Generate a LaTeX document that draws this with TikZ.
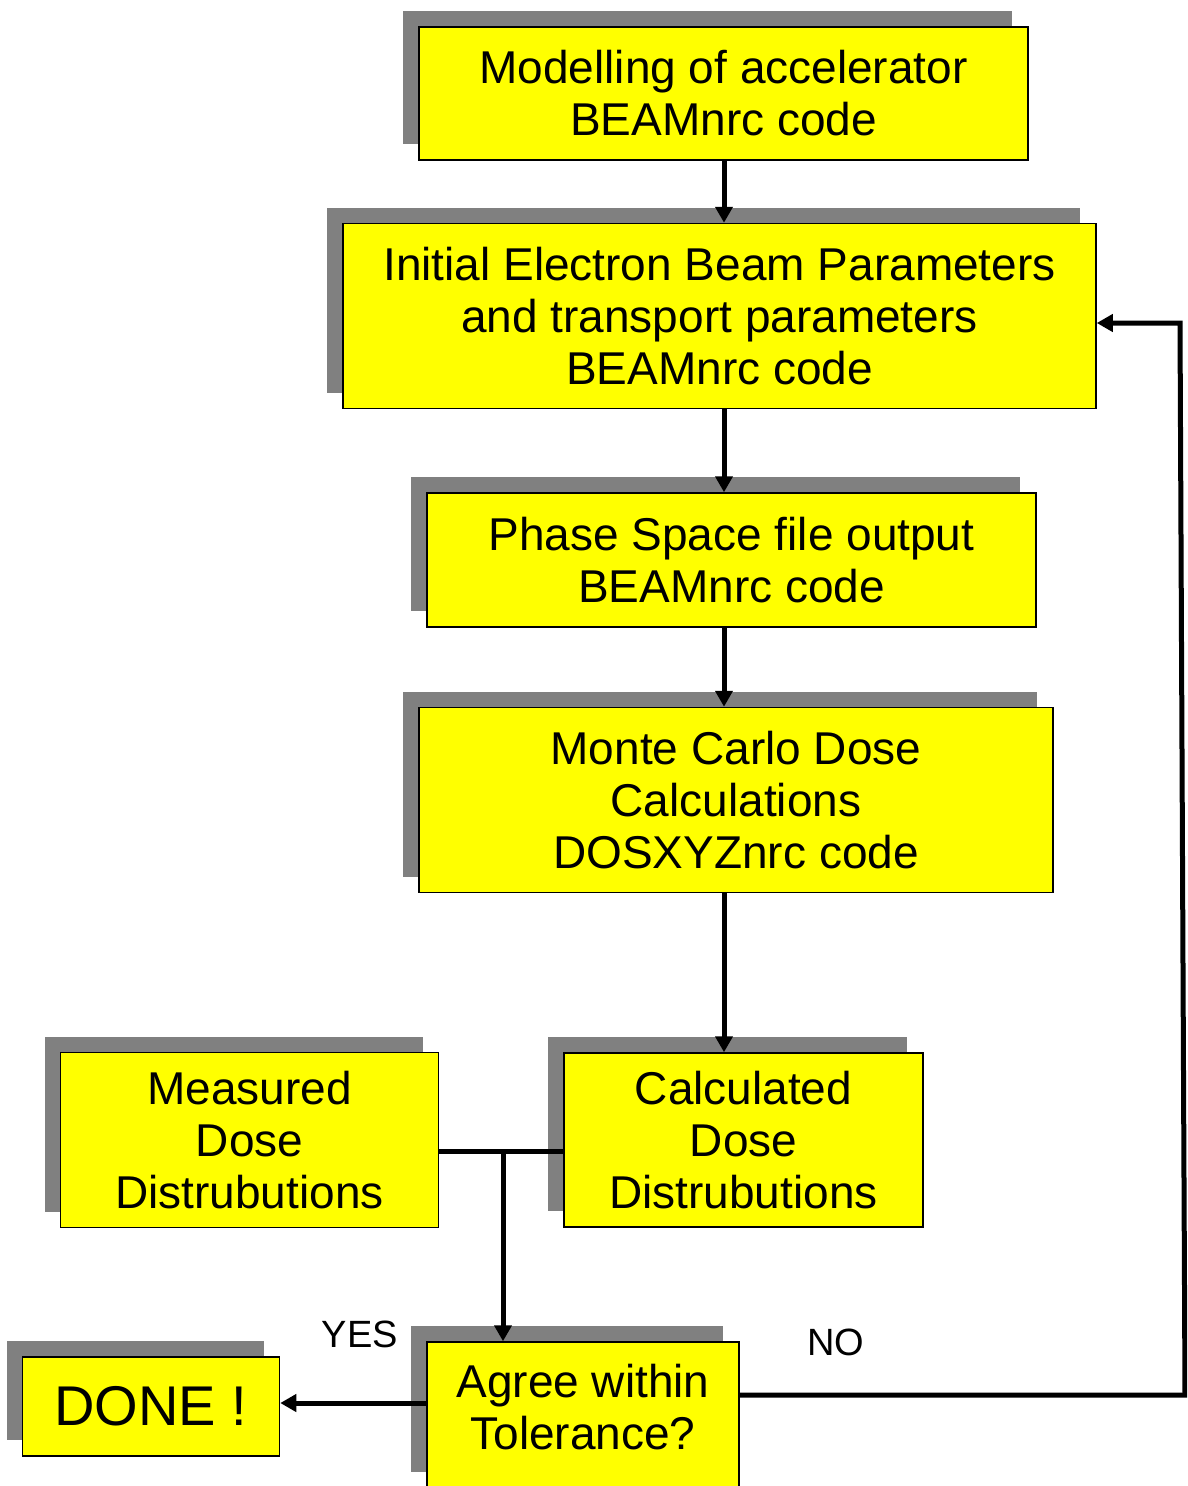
\documentclass[tikz,border=0pt]{standalone}
\usepackage{fontspec}
\setmainfont{Liberation Sans}
\usetikzlibrary{arrows.meta, positioning, shadows}
\definecolor{boxyellow}{RGB}{255,255,0}
\definecolor{shadowgray}{RGB}{128,128,128}
\tikzset{
  stage/.style={
    rectangle, draw=black, line width=1.5pt, fill=boxyellow,
    inner sep=0pt, align=center,
    font=\fontsize{46}{52}\selectfont,
    general shadow={fill=shadowgray, shadow xshift=-16pt, shadow yshift=16pt}
  },
  tag/.style={inner sep=0pt, font=\fontsize{38}{42}\selectfont},
  arrow/.style={-{Triangle[length=16pt,width=17pt]}, line width=5pt, draw=black},
  wire/.style={line width=5pt, draw=black}
}
\begin{document}
\begin{tikzpicture}[x=1pt, y=-1pt]
  \useasboundingbox (0,0) rectangle (1187,1486);
  \clip (0,0) rectangle (1187,1486);

  \node[stage, minimum width=609pt, minimum height=133pt] (model) at (723.5,93.5)
    {Modelling of accelerator\\BEAMnrc code};
  \node[stage, minimum width=753pt, minimum height=185pt,
        below=62pt of model, xshift=-4pt] (beam)
    {Initial Electron Beam Parameters\\and transport parameters\\BEAMnrc code};
  \node[stage, minimum width=609pt, minimum height=134pt,
        below=83pt of beam, xshift=12pt] (phase)
    {Phase Space file output\\BEAMnrc code};
  \node[stage, minimum width=634pt, minimum height=185pt,
        below=79pt of phase, xshift=4.5pt] (monte)
    {Monte Carlo Dose\\Calculations\\DOSXYZnrc code};
  \node[stage, minimum width=359pt, minimum height=174pt] (calc) at (743.5,1140)
    {Calculated\\Dose\\Distrubutions};
  \node[stage, minimum width=378pt, minimum height=175pt,
        left=124pt of calc] (measured)
    {Measured\\Dose\\Distrubutions};
  \node[stage, minimum width=312pt, minimum height=146pt, text depth=16pt] (agree) at (583,1415)
    {Agree within\\Tolerance?};
  \node[stage, minimum width=257pt, minimum height=99pt,
        font=\fontsize{56}{60}\selectfont,
        left=146pt of agree, yshift=8.5pt] (done) {DONE !};

  \node[tag] (yes) at (360,1334) {YES};
  \node[tag] (no) at (836,1342) {NO};

  % connectors
  \coordinate (spine) at (724,0);
  \coordinate (junc) at (503,1151);
  \coordinate (yesrow) at (0,1403);
  \coordinate (nocorner) at (1185,1395);
  \coordinate (notop) at (1180,323);

  \draw[arrow] (model.south -| spine) -- (beam.north -| spine);
  \draw[arrow] (beam.south -| spine) -- (phase.north -| spine);
  \draw[arrow] (phase.south -| spine) -- (monte.north -| spine);
  \draw[arrow] (monte.south -| spine) -- (calc.north -| spine);
  \draw[wire] (measured.east |- junc) -- (calc.west |- junc);
  \draw[arrow] (junc) -- (agree.north -| junc);
  \draw[arrow] (agree.west |- yesrow) -- (done.east |- yesrow);
  \draw[arrow] (agree.east |- nocorner) -- (nocorner) -- (notop) -- (beam.east |- notop);
\end{tikzpicture}
\end{document}
